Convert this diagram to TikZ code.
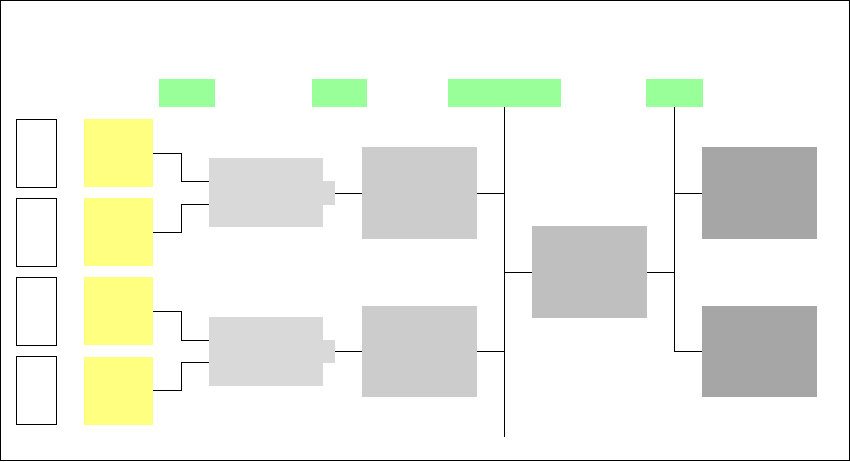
\documentclass[tikz,border=0pt]{standalone}
\begin{document}
\begin{tikzpicture}[x=1pt,y=-1pt,
  blk/.style={anchor=north west,inner sep=0pt,outer sep=0pt,draw=none},
  wbox/.style={blk,draw=black,line width=0.9pt,fill=white,minimum width=40pt,minimum height=68pt},
  ybox/.style={blk,fill=yellowc,minimum width=69pt,minimum height=68pt},
  lab/.style={blk,fill=greenc,minimum height=28pt},
  conn/.style={line width=0.9pt,black}]
\definecolor{yellowc}{HTML}{FFFF80}
\definecolor{greenc}{HTML}{99FF99}
\definecolor{g1c}{HTML}{D9D9D9}
\definecolor{g2c}{HTML}{CCCCCC}
\definecolor{g3c}{HTML}{BFBFBF}
\definecolor{g4c}{HTML}{A6A6A6}
\useasboundingbox (0,0) rectangle (850,461);
\draw[line width=1pt] (0.5,0.5) rectangle (849.5,460.5);
% green labels
\node[lab,minimum width=56pt] (l1) at (159,79) {};
\node[lab,minimum width=55pt] (l2) at (312,79) {};
\node[lab,minimum width=113pt] (l3) at (448,79) {};
\node[lab,minimum width=57pt] (l4) at (646,79) {};
% white boxes
\node[wbox] (w1) at (16.5,119.5) {};
\node[wbox] (w2) at (16.5,198.5) {};
\node[wbox] (w3) at (16.5,277.5) {};
\node[wbox] (w4) at (16.5,356.5) {};
% yellow boxes
\node[ybox] (y1) at (84,119) {};
\node[ybox] (y2) at (84,198) {};
\node[ybox] (y3) at (84,277) {};
\node[ybox] (y4) at (84,356.5) {};
% light gray merge boxes with tabs
\node[blk,fill=g1c,minimum width=114pt,minimum height=69pt] (m1) at (209,158) {};
\node[blk,fill=g1c,minimum width=12pt,minimum height=24pt] (t1) at (323,181) {};
\node[blk,fill=g1c,minimum width=114pt,minimum height=69pt] (m2) at (209,317) {};
\node[blk,fill=g1c,minimum width=12pt,minimum height=23pt] (t2) at (323,340) {};
% gray boxes
\node[blk,fill=g2c,minimum width=115pt,minimum height=92pt] (p1) at (362,147) {};
\node[blk,fill=g2c,minimum width=115pt,minimum height=91pt] (p2) at (362,306) {};
\node[blk,fill=g3c,minimum width=115pt,minimum height=92pt] (c) at (532,226) {};
\node[blk,fill=g4c,minimum width=115pt,minimum height=92pt] (d1) at (702,147) {};
\node[blk,fill=g4c,minimum width=115pt,minimum height=91pt] (d2) at (702,306) {};
% connectors
\coordinate (b1) at (181.7,0);
\draw[conn] (y1.east) -- (b1 |- y1.east) -- (b1 |- 0,181.3) -- (m1.west |- 0,181.3);
\draw[conn] (y2.east) -- (b1 |- y2.east) -- (b1 |- 0,204.3) -- (m1.west |- 0,204.3);
\draw[conn] (y3.east) -- (b1 |- y3.east) -- (b1 |- 0,340.3) -- (m2.west |- 0,340.3);
\draw[conn] (y4.east) -- (b1 |- y4.east) -- (b1 |- 0,362.3) -- (m2.west |- 0,362.3);
\draw[conn] (t1.east) -- (p1.west |- t1.east);
\draw[conn] (t2.east) -- (p2.west |- t2.east);
\coordinate (v1end) at (504.5,437);
\draw[conn] (l3.south) -- (l3.south |- v1end);
\draw[conn] (p1.east) -- (l3.south |- p1.east);
\draw[conn] (p2.east) -- (l3.south |- p2.east);
\draw[conn] (l3.south |- c.west) -- (c.west);
\draw[conn] (c.east) -- (l4.south |- c.east);
\draw[conn] (l4.south) -- (l4.south |- d2.west) -- (d2.west);
\draw[conn] (l4.south |- d1.west) -- (d1.west);
\end{tikzpicture}
\end{document}
